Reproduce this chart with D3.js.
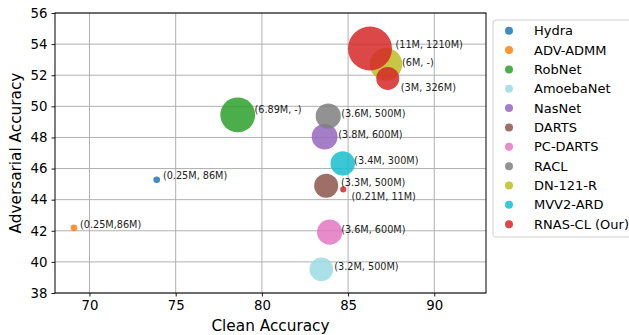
<!DOCTYPE html>
<html>
<head>
<meta charset="utf-8">
<script src="https://cdn.jsdelivr.net/npm/d3@7"></script>
<style>
  body { margin: 0; background: #fff; }
  svg { display: block; font-family: "DejaVu Sans", sans-serif; }
</style>
</head>
<body>
<svg id="chart" width="629" height="335"></svg>
<script>
const series = ["Hydra", "ADV-ADMM", "RobNet", "AmoebaNet", "NasNet", "DARTS", "PC-DARTS", "RACL", "DN-121-R", "MVV2-ARD", "RNAS-CL (Our)"];
const seriesColors = ["#1f77b4", "#ff7f0e", "#2ca02c", "#9edae5", "#9467bd", "#8c564b", "#e377c2", "#7f7f7f", "#bcbd22", "#17becf", "#d62728"];

const pointSeries = ["Hydra", "ADV-ADMM", "RobNet", "AmoebaNet", "NasNet", "DARTS", "PC-DARTS", "RACL", "DN-121-R", "MVV2-ARD", "RNAS-CL (Our)", "RNAS-CL (Our)", "RNAS-CL (Our)"];
const cleanAcc = [73.9, 69.1, 78.6, 83.45, 83.64, 83.73, 83.93, 83.85, 87.2, 84.69, 86.27, 87.3, 84.72];
const advAcc = [45.28, 42.19, 49.45, 39.52, 48.05, 44.89, 41.91, 49.38, 52.71, 46.33, 53.72, 51.79, 44.66];
const paramsM = [0.25, 0.25, 6.89, 3.2, 3.8, 3.3, 3.6, 3.6, 6, 3.4, 11, 3, 0.21];
const pointLabels = ["(0.25M, 86M)", "(0.25M,86M)", "(6.89M, -)", "(3.2M, 500M)", "(3.8M, 600M)", "(3.3M, 500M)", "(3.6M, 600M)", "(3.6M, 500M)", "(6M, -)", "(3.4M, 300M)", "(11M, 1210M)", "(3M, 326M)", "(0.21M, 11M)"];
const labelX = [74.26, 69.45, 79.57, 84.2, 84.43, 84.59, 84.6, 84.6, 88.13, 85.35, 87.75, 88.06, 85.2];
const labelY = [45.52, 42.4, 49.77, 39.7, 48.2, 45.09, 42.06, 49.56, 52.78, 46.48, 53.96, 51.21, 44.18];

const xTicks = [70, 75, 80, 85, 90];
const yTicks = [38, 40, 42, 44, 46, 48, 50, 52, 54, 56];

const svg = d3.select("#chart");
const L = 55, R = 486, T = 13, B = 293;

const x = d3.scaleLinear().domain([68, 93]).range([L, R]);
const y = d3.scaleLinear().domain([38, 56]).range([B, T]);
const r = d3.scaleSqrt().domain([0, 11]).range([0, 22]);
const color = d3.scaleOrdinal().domain(series).range(seriesColors);

// grid
const grid = svg.append("g");
grid.selectAll("line.gx").data(xTicks).join("line")
  .attr("x1", d => x(d)).attr("x2", d => x(d)).attr("y1", T).attr("y2", B)
  .attr("stroke", "#b0b0b0").attr("stroke-width", 1);
grid.selectAll("line.gy").data(yTicks).join("line")
  .attr("y1", d => y(d)).attr("y2", d => y(d)).attr("x1", L).attr("x2", R)
  .attr("stroke", "#b0b0b0").attr("stroke-width", 1);

// points
const idx = d3.range(cleanAcc.length);
svg.append("g").selectAll("circle").data(idx).join("circle")
  .attr("cx", i => x(cleanAcc[i]))
  .attr("cy", i => y(advAcc[i]))
  .attr("r", i => r(paramsM[i]))
  .attr("fill", i => color(pointSeries[i]))
  .attr("fill-opacity", 0.85);

// labels
svg.append("g").selectAll("text").data(idx).join("text")
  .attr("x", i => x(labelX[i]))
  .attr("y", i => y(labelY[i]))
  .attr("dy", "0.35em")
  .attr("font-size", "9.7px")
  .attr("fill", "#222")
  .text(i => pointLabels[i]);

// axes
const xAxis = svg.append("g").attr("transform", `translate(0,${B})`)
  .call(d3.axisBottom(x).tickValues(xTicks).tickSize(3.5).tickPadding(4).tickSizeOuter(0));
const yAxis = svg.append("g").attr("transform", `translate(${L},0)`)
  .call(d3.axisLeft(y).tickValues(yTicks).tickSize(3.5).tickPadding(4).tickSizeOuter(0));
[xAxis, yAxis].forEach(a => {
  a.select(".domain").remove();
  a.selectAll("text").attr("font-size", "13.3px").attr("fill", "#000").attr("font-family", "DejaVu Sans, sans-serif");
  a.selectAll(".tick line").attr("stroke", "#000").attr("stroke-width", 0.9);
});

// frame
svg.append("rect").attr("x", L).attr("y", T).attr("width", R - L).attr("height", B - T)
  .attr("fill", "none").attr("stroke", "#000").attr("stroke-width", 1);

// axis labels
svg.append("text").attr("x", (L + R) / 2).attr("y", 331)
  .attr("text-anchor", "middle").attr("font-size", "15.3px").text("Clean Accuracy");
svg.append("text").attr("transform", `translate(21,${(T + B) / 2}) rotate(-90)`)
  .attr("text-anchor", "middle").attr("font-size", "15.3px").text("Adversarial Accuracy");

// legend
const lg = svg.append("g");
lg.append("rect").attr("x", 493).attr("y", 20).attr("width", 150).attr("height", 217)
  .attr("rx", 3).attr("fill", "#fff").attr("fill-opacity", 0.8)
  .attr("stroke", "#d0d0d0").attr("stroke-width", 1);
const items = lg.selectAll("g.item").data(series).join("g")
  .attr("transform", (d, i) => `translate(0,${30.7 + i * 19.35})`);
items.append("circle").attr("cx", 509).attr("cy", 0).attr("r", 4)
  .attr("fill", d => color(d)).attr("fill-opacity", 0.85);
items.append("text").attr("x", 534).attr("y", 0).attr("dy", "0.35em")
  .attr("font-size", "13px").attr("fill", "#000").text(d => d);
</script>
</body>
</html>
